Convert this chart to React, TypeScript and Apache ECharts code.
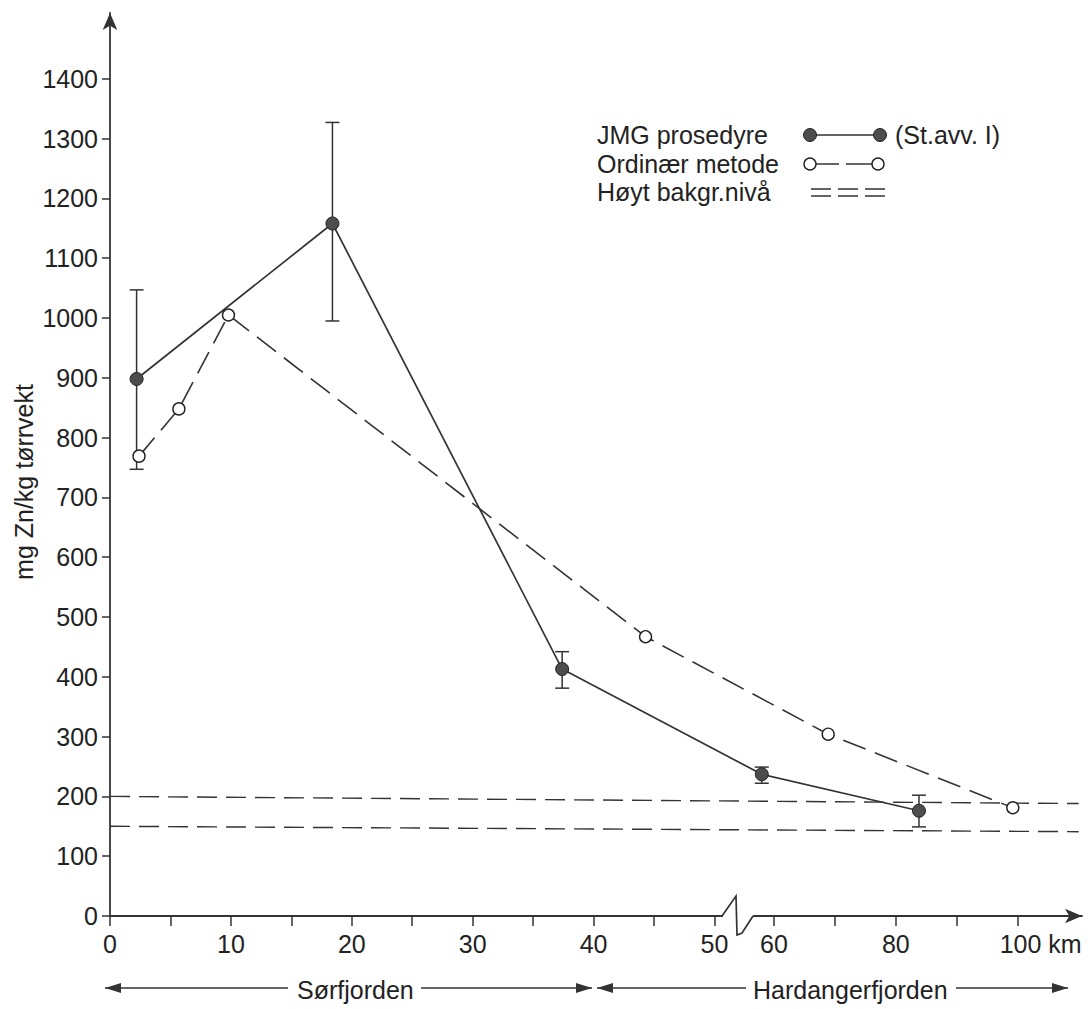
import React, { useEffect, useRef } from "react";
import * as echarts from "echarts";

// ---- data (km along fjord, mg Zn/kg) ----
const xTickKm = [0, 5, 10, 15, 20, 25, 30, 35, 40, 45, 50, 60, 70, 80, 90, 100];
const xLabelKm = [0, 10, 20, 30, 40, 50, 60, 80, 100];
const yLabels = [0, 100, 200, 300, 400, 500, 600, 700, 800, 900, 1000, 1100, 1200, 1300, 1400];

const jmgKm = [2.2, 18.4, 37.4, 58.0, 83.8];
const jmgVal = [898, 1158, 413, 237, 176];
const jmgLow = [747, 995, 381, 222, 149];
const jmgHigh = [1047, 1327, 442, 249, 202];

const ordKm = [2.4, 5.7, 9.8, 44.3, 68.9, 99.2];
const ordVal = [769, 848, 1005, 467, 304, 181];

const bgKm = [0, 110];
const bgHighVal = [200, 188];
const bgLowVal = [150, 141];

// broken x-scale: 1 unit per km up to the break, about half after it
const D60 = 54.92;
const AFTER = 0.504;
const toD = (km: number) => (km <= 52 ? km : D60 + (km - 60) * AFTER);
const fromD = (d: number) => (d <= 52 ? Math.round(d) : Math.round(60 + (d - D60) / AFTER));

const FONT = "'Liberation Sans', Arial, Helvetica, sans-serif";
const FS = 25;
const INK = "#222";

export default function App() {
  const ref = useRef<HTMLDivElement>(null);
  useEffect(() => {
    if (!ref.current) return;
    const chart = echarts.init(ref.current, undefined, { renderer: "svg" });

    const arrowHead = (tipX: number, y: number, dir: number) => ({
      type: "polygon",
      shape: { points: [[tipX, y], [tipX - dir * 16, y - 5], [tipX - dir * 16, y + 5]] },
      style: { fill: "#333" },
      z: 20,
    });
    const hline = (x1: number, x2: number, y: number, dash?: number[]) => ({
      type: "line",
      shape: { x1, y1: y, x2, y2: y },
      style: { stroke: "#333", lineWidth: 1.5, lineDash: dash },
      z: 20,
    });
    const txt = (x: number, y: number, text: string, align = "left") => ({
      type: "text",
      x,
      y,
      style: { text, fill: INK, font: `${FS}px ${FONT}`, align, verticalAlign: "middle" },
      z: 20,
    });

    const arrowY = 988;

    chart.setOption({
      animation: false,
      backgroundColor: "#fff",
      grid: { left: 110, right: 6, top: 13, bottom: 93, containLabel: false },
      xAxis: {
        type: "value",
        min: 0,
        max: 80.4,
        axisLine: {
          show: true,
          lineStyle: { color: "#333", width: 1.8 },
          symbol: ["none", "arrow"],
          symbolSize: [11, 17],
        },
        axisTick: {
          show: true,
          customValues: xTickKm.map(toD),
          length: 10,
          lineStyle: { color: "#333", width: 1.5 },
        },
        axisLabel: {
          customValues: xLabelKm.map(toD),
          margin: 15,
          color: INK,
          fontSize: FS,
          fontFamily: FONT,
          formatter: (v: number) => {
            const k = fromD(v);
            return k === 100 ? "{km|100 km}" : String(k);
          },
          rich: { km: { fontSize: FS, fontFamily: FONT, color: INK, padding: [0, 0, 0, 46] } },
        },
        splitLine: { show: false },
      },
      yAxis: {
        type: "value",
        min: 0,
        max: 1510,
        interval: 100,
        axisLine: {
          show: true,
          lineStyle: { color: "#333", width: 1.8 },
          symbol: ["none", "arrow"],
          symbolSize: [11, 17],
        },
        axisTick: { show: true, customValues: yLabels, length: 8, lineStyle: { color: "#333", width: 1.5 } },
        axisLabel: {
          customValues: yLabels,
          margin: 12,
          color: INK,
          fontSize: FS,
          fontFamily: FONT,
          formatter: (v: number) => String(v),
        },
        splitLine: { show: false },
      },
      series: [
        {
          name: "Høyt bakgr.nivå 200",
          type: "line",
          data: bgKm.map((k, i) => [toD(k), bgHighVal[i]]),
          symbol: "none",
          lineStyle: { color: "#333", width: 1.4, type: [20, 9] },
          z: 1,
          silent: true,
        },
        {
          name: "Høyt bakgr.nivå 150",
          type: "line",
          data: bgKm.map((k, i) => [toD(k), bgLowVal[i]]),
          symbol: "none",
          lineStyle: { color: "#333", width: 1.4, type: [20, 9] },
          z: 1,
          silent: true,
        },
        {
          name: "Ordinær metode",
          type: "line",
          data: ordKm.map((k, i) => [toD(k), ordVal[i]]),
          symbol: "circle",
          symbolSize: 12,
          itemStyle: { color: "#fff", borderColor: "#222", borderWidth: 1.4 },
          lineStyle: { color: "#333", width: 1.6, type: [24, 10] },
          z: 3,
        },
        {
          name: "St.avv.",
          type: "custom",
          data: jmgKm.map((k, i) => [toD(k), jmgLow[i], jmgHigh[i]]),
          renderItem: (_p: any, api: any) => {
            const x = api.value(0);
            const lo = api.coord([x, api.value(1)]);
            const hi = api.coord([x, api.value(2)]);
            const w = 7;
            const st = { stroke: "#333", lineWidth: 1.5 };
            return {
              type: "group",
              children: [
                { type: "line", shape: { x1: lo[0], y1: lo[1], x2: hi[0], y2: hi[1] }, style: st },
                { type: "line", shape: { x1: lo[0] - w, y1: lo[1], x2: lo[0] + w, y2: lo[1] }, style: st },
                { type: "line", shape: { x1: hi[0] - w, y1: hi[1], x2: hi[0] + w, y2: hi[1] }, style: st },
              ],
            };
          },
          z: 2,
        },
        {
          name: "JMG prosedyre",
          type: "line",
          data: jmgKm.map((k, i) => [toD(k), jmgVal[i]]),
          symbol: "circle",
          symbolSize: 13,
          itemStyle: { color: "#4d4d4d", borderColor: "#222", borderWidth: 1 },
          lineStyle: { color: "#333", width: 1.7, type: "solid" },
          z: 4,
        },
      ],
      graphic: [
        // y-axis title
        {
          type: "text",
          x: 24,
          y: 482,
          rotation: Math.PI / 2,
          style: {
            text: "mg Zn/kg tørrvekt",
            fill: INK,
            font: `${FS}px ${FONT}`,
            align: "center",
            verticalAlign: "middle",
          },
          z: 20,
        },
        // axis break
        {
          type: "rect",
          shape: { x: 723, y: 912, width: 30, height: 8 },
          style: { fill: "#fff" },
          z: 19,
        },
        {
          type: "polyline",
          shape: { points: [[722, 916], [736, 896], [737, 935], [742, 933], [753, 916]] },
          style: { stroke: "#333", lineWidth: 1.7, fill: "none" },
          z: 20,
        },
        // legend
        txt(597, 135, "JMG prosedyre"),
        hline(810, 880, 135),
        { type: "circle", shape: { cx: 810, cy: 135, r: 6.5 }, style: { fill: "#4d4d4d", stroke: "#222", lineWidth: 1 }, z: 21 },
        { type: "circle", shape: { cx: 880, cy: 135, r: 6.5 }, style: { fill: "#4d4d4d", stroke: "#222", lineWidth: 1 }, z: 21 },
        txt(895, 135, "(St.avv. I)"),
        txt(597, 164, "Ordinær metode"),
        { type: "line", shape: { x1: 816, y1: 164, x2: 839, y2: 164 }, style: { stroke: "#333", lineWidth: 1.5 }, z: 20 },
        { type: "line", shape: { x1: 846, y1: 164, x2: 872, y2: 164 }, style: { stroke: "#333", lineWidth: 1.5 }, z: 20 },
        { type: "circle", shape: { cx: 810, cy: 164, r: 6 }, style: { fill: "#fff", stroke: "#222", lineWidth: 1.4 }, z: 21 },
        { type: "circle", shape: { cx: 878, cy: 164, r: 6 }, style: { fill: "#fff", stroke: "#222", lineWidth: 1.4 }, z: 21 },
        txt(597, 192, "Høyt bakgr.nivå"),
        hline(811, 886, 189, [20, 7]),
        hline(811, 886, 196, [20, 7]),
        // fjord ranges
        hline(105, 288, arrowY),
        hline(421, 592, arrowY),
        arrowHead(105, arrowY, -1),
        arrowHead(592, arrowY, 1),
        txt(297, arrowY + 2, "Sørfjorden"),
        hline(597, 746, arrowY),
        hline(956, 1068, arrowY),
        arrowHead(597, arrowY, -1),
        arrowHead(1068, arrowY, 1),
        txt(753, arrowY + 2, "Hardangerfjorden"),
      ],
    });
    return () => chart.dispose();
  }, []);

  return (
    <div
      ref={ref}
      style={{ position: "absolute", left: 0, top: 0, width: 1088, height: 1009, background: "#fff" }}
    />
  );
}
